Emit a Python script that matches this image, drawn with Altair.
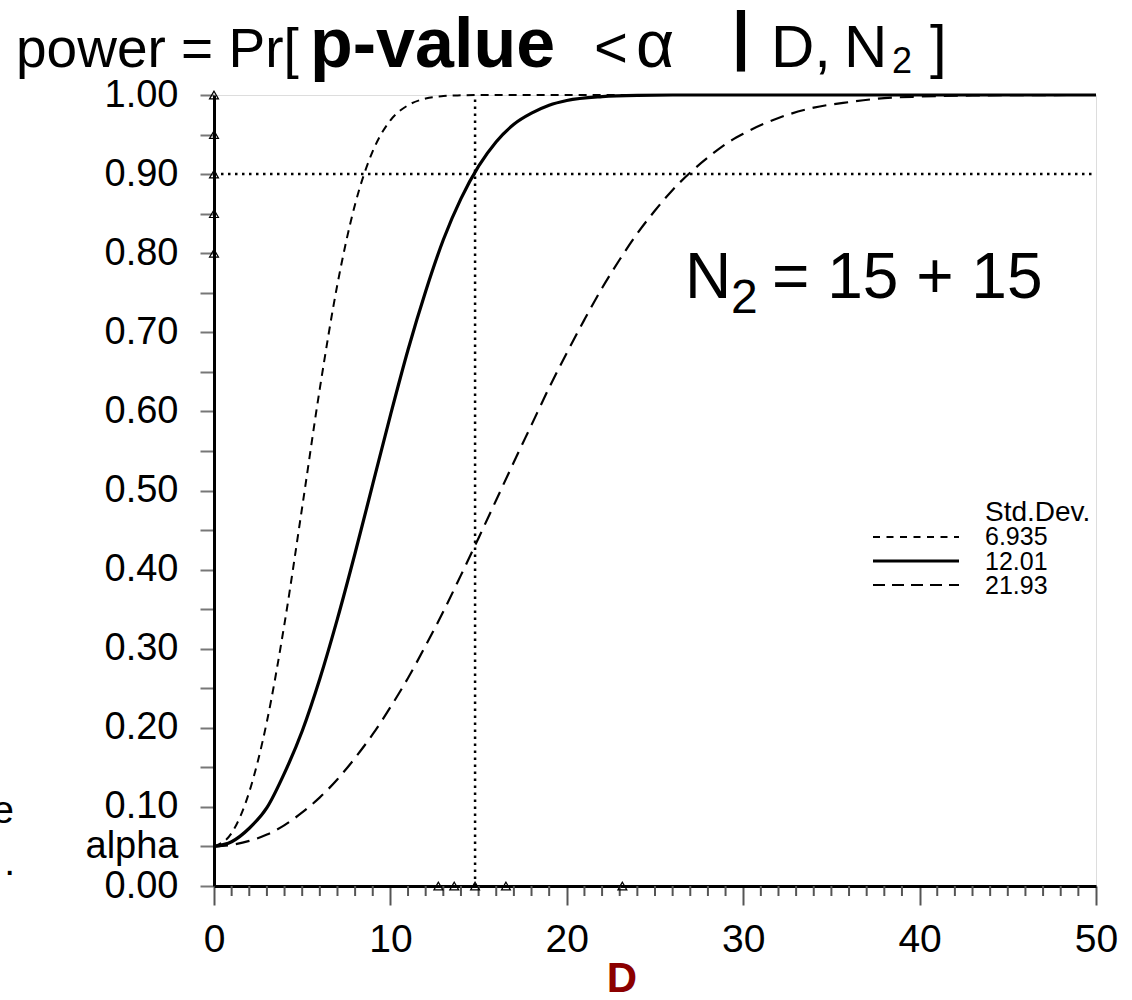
import altair as alt
import pandas as pd

# ---- data ----
sd_labels = ["6.935", "12.01", "21.93"]

d_small = [0, 1, 2, 3, 4, 5, 6, 7, 8, 9, 10, 11, 12, 13, 14, 15, 50]
p_small = [0.050, 0.067, 0.119, 0.208, 0.332, 0.479, 0.629, 0.761, 0.862, 0.929,
           0.968, 0.987, 0.9955, 0.9986, 0.9996, 1.0, 1.0]

d_mid = [0, 1, 2, 3, 4, 5, 6, 7, 8, 9, 10, 11, 12, 13, 14, 15, 16, 17, 18, 19, 20,
         22, 24, 26, 50]
p_mid = [0.050, 0.056, 0.073, 0.099, 0.143, 0.196, 0.262, 0.338, 0.421, 0.508,
         0.595, 0.678, 0.752, 0.817, 0.869, 0.910, 0.941, 0.963, 0.977, 0.987,
         0.993, 0.998, 0.9996, 1.0, 1.0]

d_big = [0, 1, 2, 3, 4, 5, 6, 7, 8, 9, 10, 11, 12, 13, 14, 15, 16, 17, 18, 19, 20,
         21, 22, 23, 24, 25, 26, 27, 28, 29, 30, 32, 34, 36, 38, 40, 43, 46, 50]
p_big = [0.050, 0.052, 0.057, 0.065, 0.077, 0.093, 0.112, 0.135, 0.162, 0.192,
         0.226, 0.263, 0.304, 0.347, 0.393, 0.440, 0.488, 0.536, 0.583, 0.630,
         0.674, 0.716, 0.756, 0.792, 0.825, 0.854, 0.880, 0.902, 0.921, 0.938,
         0.951, 0.971, 0.984, 0.991, 0.996, 0.998, 0.9994, 0.9999, 1.0]

ref_power = 0.90
ref_D = 14.8
tri_y_vals = [0.80, 0.85, 0.90, 0.95, 1.00]
tri_x_vals = [12.72, 13.62, 14.8, 16.55, 23.15]

x_major = [0, 10, 20, 30, 40, 50]
x_minor = [1, 2, 3, 4, 5, 6, 7, 8, 9, 11, 12, 13, 14, 15, 16, 17, 18, 19,
           21, 22, 23, 24, 25, 26, 27, 28, 29, 31, 32, 33, 34, 35, 36, 37, 38, 39,
           41, 42, 43, 44, 45, 46, 47, 48, 49]
y_ticks = [0.0, 0.05, 0.1, 0.15, 0.2, 0.25, 0.3, 0.35, 0.4, 0.45, 0.5, 0.55, 0.6,
           0.65, 0.7, 0.75, 0.8, 0.85, 0.9, 0.95, 1.0]

W, H = 882, 791
SANS = "Liberation Sans"

xs = alt.Scale(domain=[0, 50], nice=False, zero=False)
ys = alt.Scale(domain=[0, 1], nice=False)

X_AX = alt.Axis(values=x_major, title=None, tickSize=19, tickWidth=2, tickColor="#555",
                labelPadding=15, labelFontSize=39, labelFont=SANS, labelColor="black",
                domainColor="black", domainWidth=3, grid=False, format="d",
                labelFlush=False, labelOverlap=False)
Y_AX = alt.Axis(values=y_ticks, title=None, tickSize=14, tickWidth=2, tickColor="#777",
                labelPadding=22, labelFontSize=38, labelFont=SANS, labelColor="black",
                domainColor="black", domainWidth=3, grid=False,
                labelExpr="datum.value == 0.05 ? 'alpha' : (round(datum.value*20) % 2 == 0 ? format(datum.value, '.2f') : '')",
                labelFlush=False, labelOverlap=False)

def curve(d, p, dash, width):
    df = pd.DataFrame({"D": d, "power": p})
    enc = dict(x=alt.X("D:Q", scale=xs, axis=X_AX), y=alt.Y("power:Q", scale=ys, axis=Y_AX))
    kw = dict(color="black", strokeWidth=width, interpolate="monotone")
    if dash:
        kw["strokeDash"] = dash
    return alt.Chart(df).mark_line(**kw).encode(**enc)

one = pd.DataFrame({"a": [0]})

def txt(s, x, y, size, font=SANS, weight="normal", align="left", color="black"):
    return alt.Chart(one).mark_text(text=s, fontSize=size, font=font, fontWeight=weight,
                                    align=align, baseline="alphabetic", color=color).encode(
        x=alt.value(x), y=alt.value(y))

def leg_line(y, dash, width):
    kw = dict(color="black", strokeWidth=width)
    if dash:
        kw["strokeDash"] = dash
    return alt.Chart(one).mark_rule(**kw).encode(x=alt.value(659), x2=alt.value(745), y=alt.value(y))

# reference dotted lines
href = alt.Chart(pd.DataFrame({"x": [0], "x2": [50], "y": [ref_power]})).mark_rule(
    color="black", strokeWidth=2.5, strokeDash=[2.5, 4.5]).encode(
    x=alt.X("x:Q", scale=xs, axis=X_AX), x2="x2:Q", y=alt.Y("y:Q", scale=ys, axis=Y_AX))
vref = alt.Chart(pd.DataFrame({"x": [ref_D], "y": [0], "y2": [1]})).mark_rule(
    color="black", strokeWidth=2.5, strokeDash=[2.5, 4.5]).encode(
    x=alt.X("x:Q", scale=xs, axis=X_AX), y=alt.Y("y:Q", scale=ys, axis=Y_AX), y2="y2:Q")

# minor x ticks
minor = alt.Chart(pd.DataFrame({"m": x_minor})).mark_rule(
    color="#555", strokeWidth=2, clip=False).encode(
    x=alt.X("m:Q", scale=xs, axis=X_AX), y=alt.value(H), y2=alt.value(H + 10))

# triangles
tri_y = alt.Chart(pd.DataFrame({"x": [0] * len(tri_y_vals), "y": tri_y_vals})).mark_point(
    shape="triangle-up", filled=False, color="black", size=80, strokeWidth=1.2, opacity=1,
    clip=False).encode(
    x=alt.X("x:Q", scale=xs, axis=X_AX), y=alt.Y("y:Q", scale=ys, axis=Y_AX))
tri_x = alt.Chart(pd.DataFrame({"x": tri_x_vals, "y": [0] * len(tri_x_vals)})).mark_point(
    shape="triangle-up", filled=False, color="black", size=80, strokeWidth=1.2, opacity=1,
    clip=False).encode(
    x=alt.X("x:Q", scale=xs, axis=X_AX), y=alt.Y("y:Q", scale=ys, axis=Y_AX))

layers = [
    href, vref,
    curve(d_big, p_big, [14, 8], 2.2),
    curve(d_small, p_small, [8, 6], 2),
    curve(d_mid, p_mid, None, 3.2),
    minor, tri_y, tri_x,
    # title
    txt("power = Pr[", -198, -28, 55),
    txt("p-value", 96, -28, 70, weight="bold"),
    txt("<", 380, -28, 58),
    txt("\u03b1", 422, -28, 66),
    txt("|", 518, -38, 64, weight="bold"),
    txt("D,", 557, -28, 60),
    txt("N", 630, -28, 60),
    txt("2", 678, -22, 36),
    txt("]", 716, -28, 60),
    # annotation
    txt("N", 471, 203, 64),
    txt("2", 517, 218, 48),
    txt("= 15 + 15", 558, 203, 64),
    # legend
    txt("Std.Dev.", 771, 426, 28),
    txt(sd_labels[0], 771, 450, 25),
    txt(sd_labels[1], 771, 475, 25),
    txt(sd_labels[2], 771, 499, 25),
    leg_line(442, [7, 6.5], 1.8),
    leg_line(466, None, 3),
    leg_line(490, [12, 7], 2),
    # x-axis title
    txt("D", 408, 897, 42, weight="bold", align="center", color="#8B0000"),
    # cut-off glyphs at the left edge
    txt("e", -200, 728, 39, align="right"),
    txt(".", -199, 780, 39, align="right"),
]

chart = alt.layer(*layers).properties(
    width=W, height=H,
    autosize=alt.AutoSizeParams(type="none"),
    padding={"left": 214, "top": 95, "right": 36, "bottom": 114},
).configure_view(stroke="black", strokeWidth=1.5).configure(background="white")

chart.save("out.html", embed_options={"renderer": "svg", "actions": False})
